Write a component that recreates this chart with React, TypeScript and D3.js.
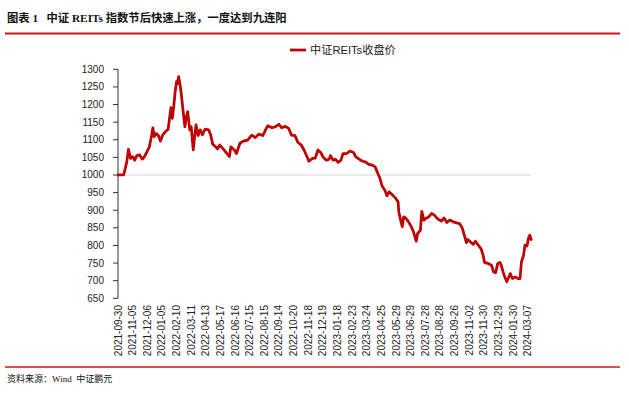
import React from "react";
import * as d3 from "d3";

const titleText = "图表 1   中证 REITs 指数节后快速上涨，一度达到九连阳";
const legendLabel = "中证REITs收盘价";
const sourceText = "资料来源：Wind  中证鹏元";

const tickLabels = [
  "2021-09-30", "2021-11-05", "2021-12-06", "2022-01-05", "2022-02-10", "2022-03-11",
  "2022-04-13", "2022-05-17", "2022-06-16", "2022-07-15", "2022-08-15", "2022-09-14",
  "2022-10-20", "2022-11-18", "2022-12-19", "2023-01-18", "2023-02-23", "2023-03-24",
  "2023-04-25", "2023-05-29", "2023-06-29", "2023-07-28", "2023-08-28", "2023-09-26",
  "2023-11-02", "2023-11-30", "2023-12-29", "2024-01-30", "2024-03-07",
];
const tickStep = 21; // trading days between labels

const yTicks = [650, 700, 750, 800, 850, 900, 950, 1000, 1050, 1100, 1150, 1200, 1250, 1300];
const baseline = 1000;

// trading day offset since 2021-09-30
const tradingDay = [
  0, 8, 11, 13, 15, 18, 21, 24, 27, 31, 35, 38, 42, 45, 48, 50, 52, 55, 58, 61, 64, 68, 72, 74,
  76, 78, 80, 82, 84, 85, 87, 89, 91, 93, 96, 98, 100, 103, 105, 108, 110, 112, 115, 118, 121,
  125, 130, 133, 136, 140, 143, 146, 150, 155, 160, 162, 167, 170, 175, 180, 186, 192, 197, 202,
  208, 211, 215, 221, 226, 231, 235, 240, 245, 249, 254, 258, 263, 267, 270, 274, 279, 283, 287,
  291, 294, 299, 303, 305, 309, 312, 316, 320, 323, 328, 333, 338, 341, 346, 351, 355, 360, 365,
  369, 373, 376, 379, 383, 386, 389, 393, 398, 402, 403, 406, 408, 410, 413, 417, 421, 424, 428,
  430, 434, 436, 439, 442, 446, 450, 454, 459, 464, 468, 472, 476, 481, 486, 490, 494, 497, 500,
  502, 506, 510, 513, 517, 521, 524, 526, 531, 536, 539, 542, 545, 548, 550, 553, 555, 558, 560,
  563, 566, 570, 574, 577, 579, 582, 584, 587, 589, 591, 593,
];
const closeValue = [
  1000, 1000, 1023, 1042, 1073, 1047, 1052, 1042, 1055, 1057, 1045, 1052, 1068, 1080, 1109, 1134,
  1109, 1118, 1112, 1096, 1113, 1123, 1130, 1161, 1191, 1161, 1194, 1236, 1265, 1258, 1279, 1257,
  1227, 1189, 1137, 1165, 1180, 1128, 1137, 1071, 1109, 1142, 1112, 1128, 1114, 1130, 1128, 1114,
  1087, 1080, 1074, 1085, 1076, 1064, 1052, 1080, 1071, 1061, 1090, 1096, 1099, 1113, 1106, 1116,
  1112, 1125, 1140, 1134, 1137, 1144, 1134, 1138, 1132, 1113, 1112, 1093, 1085, 1071, 1058, 1039,
  1047, 1048, 1071, 1064, 1052, 1042, 1045, 1055, 1042, 1045, 1036, 1042, 1061, 1061, 1068, 1064,
  1052, 1045, 1039, 1037, 1030, 1028, 1023, 1004, 990, 969, 957, 941, 952, 945, 935, 924, 895, 869,
  853, 881, 878, 867, 853, 839, 812, 834, 843, 897, 872, 877, 881, 891, 886, 875, 869, 878, 865,
  872, 867, 864, 862, 850, 829, 808, 817, 810, 803, 812, 801, 791, 772, 752, 749, 744, 725, 723,
  749, 752, 744, 723, 711, 697, 706, 720, 706, 711, 706, 706, 753, 772, 801, 798, 820, 829, 817,
];

const W = 629;
const H = 393;
const RED = "#C00000";

export default function App() {
  const x = d3.scaleLinear().domain([0, (tickLabels.length - 1) * tickStep]).range([118, 527.7]);
  const y = d3.scaleLinear().domain([650, 1300]).range([298.3, 69.3]);

  const points: [number, number][] = tradingDay.map((d, i) => [d, closeValue[i]]);
  const line = d3
    .line<[number, number]>()
    .x((d) => x(d[0]))
    .y((d) => y(d[1]));

  const lastDay = tradingDay[tradingDay.length - 1];
  const sansFont = "'Liberation Sans', Arial, 'Noto Sans CJK SC', sans-serif";
  const serifFont = "'Liberation Serif', 'Times New Roman', 'Noto Sans CJK SC', serif";

  return (
    <svg
      width={W}
      height={H}
      style={{ position: "absolute", left: 0, top: 0, background: "#fff" }}
      xmlns="http://www.w3.org/2000/svg"
    >
      <rect x={0} y={0} width={W} height={H} fill="#fff" />
      {/* Title */}
      <text
        x={7}
        y={22}
        fontFamily={serifFont}
        fontWeight="bold"
        fontSize={11.3}
        fill="#111"
        style={{ whiteSpace: "pre" }}
      >
        {titleText}
      </text>
      <line x1={5} x2={620} y1={33.5} y2={33.5} stroke="#D0161B" strokeWidth={2} />

      {/* Legend */}
      <line x1={290} x2={306} y1={50} y2={50} stroke={RED} strokeWidth={2.75} />
      <text x={310} y={54} fontFamily={sansFont} fontSize={11.2} fill="#222">
        {legendLabel}
      </text>

      {/* baseline 1000 */}
      <line
        x1={x(0)}
        x2={x(lastDay)}
        y1={y(baseline)}
        y2={y(baseline)}
        stroke="#e3e3e3"
        strokeWidth={1.5}
      />

      {/* Y axis */}
      <line x1={118} x2={118} y1={y(1300)} y2={y(650)} stroke="#333" strokeWidth={1} />
      {yTicks.map((t) => (
        <g key={t}>
          <line x1={113} x2={118} y1={y(t)} y2={y(t)} stroke="#333" strokeWidth={1} />
          <text
            x={104}
            y={y(t)}
            dy="0.35em"
            textAnchor="end"
            fontFamily={sansFont}
            fontSize={10}
            fill="#222"
          >
            {t}
          </text>
        </g>
      ))}

      {/* X labels */}
      {tickLabels.map((lab, i) => (
        <text
          key={lab}
          transform={`translate(${x(i * tickStep)},305) rotate(-90)`}
          dy="0.35em"
          textAnchor="end"
          fontFamily={sansFont}
          fontSize={10}
          fill="#222"
        >
          {lab}
        </text>
      ))}

      {/* Series */}
      <path
        d={line(points) || ""}
        fill="none"
        stroke={RED}
        strokeWidth={2.75}
        strokeLinejoin="round"
        strokeLinecap="round"
      />

      {/* Footer */}
      <line x1={5} x2={620} y1={367} y2={367} stroke="#D0161B" strokeWidth={1.5} />
      <text
        x={7}
        y={382}
        fontFamily={serifFont}
        fontSize={9}
        fill="#111"
        style={{ whiteSpace: "pre" }}
      >
        {sourceText}
      </text>
    </svg>
  );
}
